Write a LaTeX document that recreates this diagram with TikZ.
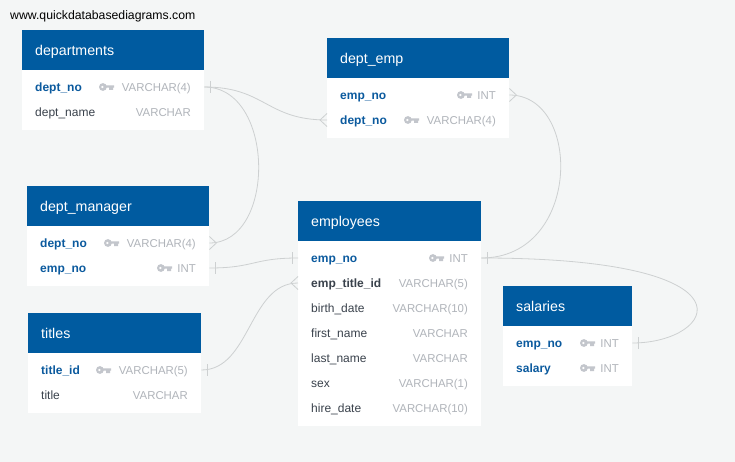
\documentclass[tikz,border=0pt]{standalone}
\usepackage{fontspec}
\setmainfont{Liberation Sans}
\definecolor{bgc}{HTML}{F4F6F6}
\definecolor{headc}{HTML}{005BA0}
\definecolor{pkc}{HTML}{0B5A9E}
\definecolor{darkc}{HTML}{3A424C}
\definecolor{typec}{HTML}{B0B4BA}
\definecolor{keyc}{HTML}{C3C6CC}
\definecolor{linkc}{HTML}{CDD0D1}
\tikzset{
  headbox/.style={fill=headc,draw=none,inner sep=0pt,anchor=north west,minimum height=40pt},
  bodybox/.style={fill=white,draw=none,inner sep=0pt,anchor=north west},
  rowbox/.style={draw=none,inner sep=0pt,anchor=west,minimum height=25pt},
  headtext/.style={text=white,inner sep=0pt,anchor=base west,font=\fontsize{14.2}{17}\selectfont},
  nametext/.style={inner sep=0pt,anchor=base west,font=\fontsize{12}{14}\selectfont},
  pkname/.style={nametext,text=pkc,font=\fontsize{12}{14}\selectfont\bfseries},
  fkname/.style={nametext,text=darkc,font=\fontsize{12}{14}\selectfont\bfseries},
  plainname/.style={nametext,text=darkc},
  typetext/.style={inner sep=0pt,anchor=base east,text=typec,font=\fontsize{11.4}{14}\selectfont},
  link/.style={draw=linkc,line width=0.8pt}
}
% table: id, x, top, width, total height, title
\newcommand{\etable}[6]{%
  \node[bodybox,minimum width=#4 pt,minimum height=#5 pt] (#1) at (#2,#3) {};
  \node[headbox,minimum width=#4 pt] (#1-head) at (#2,#3) {};
  \node[headtext] (#1-title) at (#2+13,#3+25.6) {#6};
}
% row: id, x, width, y, name, name style, type
\newcommand{\erow}[7]{%
  \node[rowbox,minimum width=#3 pt] (#1) at (#2,#4) {};
  \node[#6] (#1-name) at (#2+13,#4+4.3) {#5};
  \node[typetext] (#1-type) at (#2+#3-13,#4+4.3) {#7};
}
% key icon: left x, y
\newcommand{\ekey}[2]{%
  \fill[keyc,even odd rule] (#1+3.9,#2) circle (3.9) (#1+3.4,#2) circle (1.5);
  \fill[keyc] (#1+6.5,#2-1.7) rectangle (#1+15,#2+0.7) (#1+10,#2) rectangle (#1+14,#2+3);
}
% ends of a link: bar next to a right / left edge
\newcommand{\barR}[1]{\draw[link] ([xshift=6pt,yshift=6pt]#1.east) -- ([xshift=6pt,yshift=-6pt]#1.east);}
\newcommand{\barL}[1]{\draw[link] ([xshift=-6pt,yshift=6pt]#1.west) -- ([xshift=-6pt,yshift=-6pt]#1.west);}
\newcommand{\crowR}[1]{\draw[link] (#1.east) ++(0,6.5pt) -- ([xshift=7pt]#1.east) -- ([yshift=-6.5pt]#1.east);}
\newcommand{\crowL}[1]{\draw[link] (#1.west) ++(0,6.5pt) -- ([xshift=-7pt]#1.west) -- ([yshift=-6.5pt]#1.west);}
\begin{document}
\begin{tikzpicture}[x=1pt,y=-1pt]
\useasboundingbox (0,0) rectangle (735,462);
\fill[bgc] (0,0) rectangle (735,462);
\node[inner sep=0pt,anchor=base west,text=black,font=\fontsize{12.25}{14}\selectfont] (url) at (10,20) {www.quickdatabasediagrams.com};

\etable{departments}{22}{30}{182}{100}{departments}
\erow{d-no}{22}{182}{87}{dept\_no}{pkname}{VARCHAR(4)}
\erow{d-name}{22}{182}{112}{dept\_name}{plainname}{VARCHAR}
\ekey{99}{87}

\etable{deptemp}{327}{38}{182}{100}{dept\_emp}
\erow{de-emp}{327}{182}{95}{emp\_no}{pkname}{INT}
\erow{de-dept}{327}{182}{120}{dept\_no}{pkname}{VARCHAR(4)}
\ekey{457}{95}
\ekey{404}{120}

\etable{deptmanager}{27}{186}{182}{100}{dept\_manager}
\erow{dm-dept}{27}{182}{243}{dept\_no}{pkname}{VARCHAR(4)}
\erow{dm-emp}{27}{182}{268}{emp\_no}{pkname}{INT}
\ekey{104}{243}
\ekey{157}{268}

\etable{titles}{28}{313}{173}{100}{titles}
\erow{t-id}{28}{173}{370}{title\_id}{pkname}{VARCHAR(5)}
\erow{t-title}{28}{173}{395}{title}{plainname}{VARCHAR}
\ekey{96}{370}

\etable{employees}{298}{201}{183}{225}{employees}
\erow{e-no}{298}{183}{258}{emp\_no}{pkname}{INT}
\erow{e-title}{298}{183}{283}{emp\_title\_id}{fkname}{VARCHAR(5)}
\erow{e-birth}{298}{183}{308}{birth\_date}{plainname}{VARCHAR(10)}
\erow{e-first}{298}{183}{333}{first\_name}{plainname}{VARCHAR}
\erow{e-last}{298}{183}{358}{last\_name}{plainname}{VARCHAR}
\erow{e-sex}{298}{183}{383}{sex}{plainname}{VARCHAR(1)}
\erow{e-hire}{298}{183}{408}{hire\_date}{plainname}{VARCHAR(10)}
\ekey{429}{258}

\etable{salaries}{503}{286}{129}{100}{salaries}
\erow{s-no}{503}{129}{343}{emp\_no}{pkname}{INT}
\erow{s-sal}{503}{129}{368}{salary}{pkname}{INT}
\ekey{580}{343}
\ekey{580}{368}

% connectors
\draw[link] (d-no.east) .. controls +(61,0) and +(-61,0) .. (de-dept.west);
\draw[link] (d-no.east) .. controls +(71,0) and +(67,0) .. (dm-dept.east);
\draw[link] (e-no.east) .. controls +(100,0) and +(73,0) .. (de-emp.east);
\draw[link] (e-no.east) .. controls +(284,0) and +(83,0) .. (s-no.east);
\draw[link] (dm-emp.east) .. controls +(45,0) and +(-45,0) .. (e-no.west);
\draw[link] (t-id.east) .. controls +(49,0) and +(-49,0) .. (e-title.west);
\barR{d-no}
\crowL{de-dept}
\crowR{dm-dept}
\barR{dm-emp}
\barL{e-no}
\crowL{e-title}
\barR{t-id}
\barR{e-no}
\crowR{de-emp}
\barR{s-no}
\end{tikzpicture}
\end{document}
